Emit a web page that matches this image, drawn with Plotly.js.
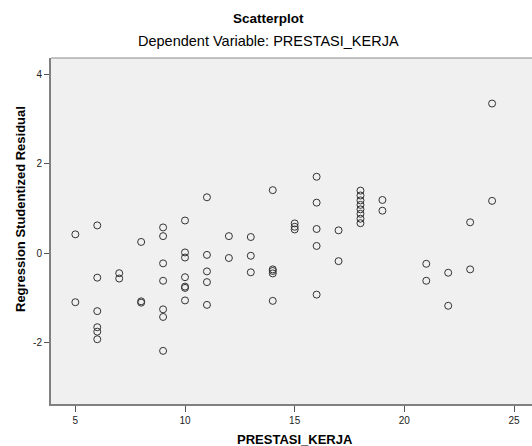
<!DOCTYPE html>
<html>
<head>
<meta charset="utf-8">
<script src="https://cdn.plot.ly/plotly-3.0.1.min.js"></script>
<style>html,body{margin:0;padding:0;background:#fff;}#chart{width:532px;height:446px;}</style>
</head>
<body>
<div id="chart"></div>
<script>
var prestasiKerja = [
  5, 5,
  6, 6, 6, 6, 6, 6,
  7, 7,
  8, 8, 8,
  9, 9, 9, 9, 9, 9, 9,
  10, 10, 10, 10, 10, 10, 10,
  11, 11, 11, 11, 11,
  12, 12,
  13, 13, 13,
  14, 14, 14, 14, 14,
  15, 15, 15,
  16, 16, 16, 16, 16,
  17, 17,
  18, 18, 18, 18, 18, 18, 18, 18,
  19, 19,
  21, 21,
  22, 22,
  23, 23,
  24, 24
];
var studentizedResidual = [
  0.42, -1.10,
  0.62, -0.55, -1.30, -1.66, -1.76, -1.93,
  -0.45, -0.57,
  0.25, -1.08, -1.11,
  0.575, 0.38, -0.23, -0.62, -1.26, -1.43, -2.19,
  0.73, 0.015, -0.10, -0.54, -0.75, -0.78, -1.06,
  1.25, -0.04, -0.41, -0.65, -1.16,
  0.38, -0.11,
  0.36, -0.06, -0.43,
  1.41, -0.365, -0.40, -0.455, -1.07,
  0.665, 0.59, 0.53,
  1.71, 1.13, 0.54, 0.16, -0.93,
  0.51, -0.18,
  1.40, 1.29, 1.18, 1.08, 0.98, 0.88, 0.77, 0.67,
  1.19, 0.95,
  -0.24, -0.62,
  -0.44, -1.18,
  0.69, -0.365,
  3.35, 1.17
];
var xTicks = [5, 10, 15, 20, 25];
var yTicks = [-2, 0, 2, 4];

var font = "Liberation Sans, Arial, sans-serif";

var trace = {
  x: prestasiKerja,
  y: studentizedResidual,
  type: 'scatter',
  mode: 'markers',
  marker: {symbol: 'circle-open', size: 7, color: '#333333', line: {width: 1, color: '#333333'}},
  hoverinfo: 'x+y'
};

var layout = {
  width: 532, height: 446,
  margin: {l: 51, r: 0, t: 58, b: 42},
  paper_bgcolor: '#ffffff',
  plot_bgcolor: '#f0f0f0',
  showlegend: false,
  font: {family: font, color: '#000'},
  xaxis: {
    range: [3.89, 25.82],
    tickvals: xTicks, ticktext: xTicks.map(String),
    ticks: 'outside', ticklen: 6, tickwidth: 1, tickcolor: '#555',
    showline: true, linecolor: '#808080', linewidth: 2,
    showgrid: false, zeroline: false,
    tickfont: {size: 10, family: font, color: '#222'}
  },
  yaxis: {
    range: [-3.38, 4.37],
    tickvals: yTicks, ticktext: yTicks.map(String),
    ticks: 'outside', ticklen: 5, tickwidth: 1, tickcolor: '#555',
    showline: true, linecolor: '#808080', linewidth: 2,
    showgrid: false, zeroline: false,
    tickfont: {size: 10, family: font, color: '#222'}
  },
  shapes: [
    {type: 'line', xref: 'paper', yref: 'paper', x0: 0, x1: 1, y0: 1, y1: 1,
     line: {color: '#8a8a8a', width: 1}}
  ],
  annotations: [
    {text: '<b>Scatterplot</b>', xref: 'paper', yref: 'paper', x: (268-51)/481, y: 1 + (58-18)/346,
     xanchor: 'center', yanchor: 'middle', showarrow: false, font: {size: 13.5, family: font, color: '#000'}},
    {text: 'Dependent Variable: PRESTASI_KERJA', xref: 'paper', yref: 'paper', x: (268-51)/481, y: 1 + (58-41)/346,
     xanchor: 'center', yanchor: 'middle', showarrow: false, font: {size: 14.5, family: font, color: '#000'}},
    {text: '<b>PRESTASI_KERJA</b>', xref: 'paper', yref: 'paper', x: (295-51)/481, y: -(439-404)/346,
     xanchor: 'center', yanchor: 'middle', showarrow: false, font: {size: 13, family: font, color: '#000'}},
    {text: '<b>Regression Studentized Residual</b>', xref: 'paper', yref: 'paper', x: -(51-20)/481, y: (404-209)/346,
     xanchor: 'center', yanchor: 'middle', textangle: -90, showarrow: false, font: {size: 13, family: font, color: '#000'}}
  ]
};

Plotly.newPlot('chart', [trace], layout, {displayModeBar: false, staticPlot: true});
</script>
</body>
</html>
